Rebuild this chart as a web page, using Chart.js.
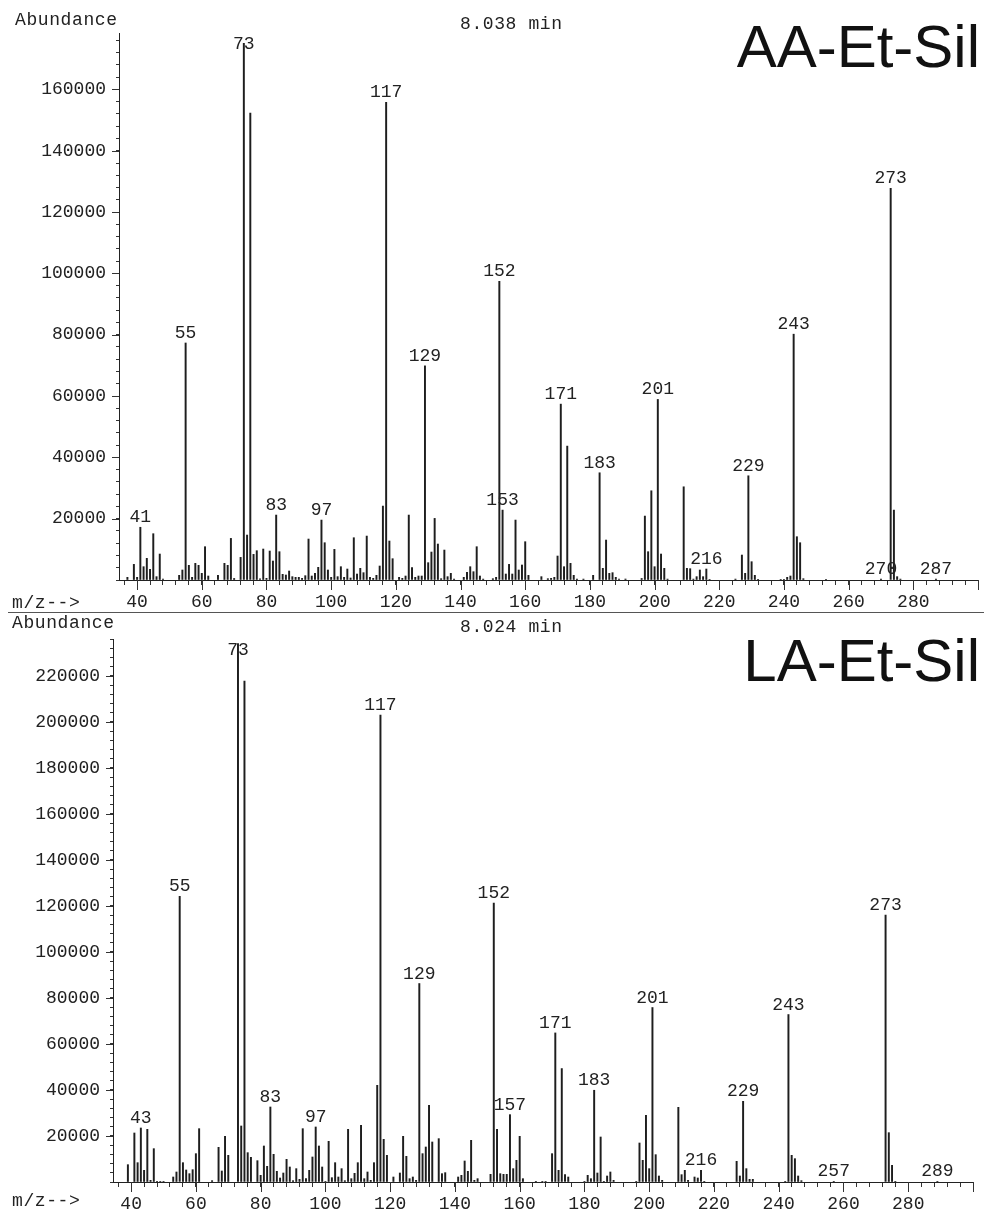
<!DOCTYPE html>
<html>
<head>
<meta charset="utf-8">
<script src="https://cdn.jsdelivr.net/npm/chart.js@4.4.1/dist/chart.umd.min.js"></script>
<style>
  body { margin: 0; background: #fff; width: 984px; height: 1213px; position: relative; overflow: hidden; color: #222; }
  canvas { position: absolute; left: 0; }
  .txt { position: absolute; font-family: "Liberation Mono", monospace; font-size: 18px; line-height: 18px; white-space: nowrap; }
  .wide { letter-spacing: 0.6px; }
  .big { position: absolute; right: 4px; font-family: "Liberation Sans", Arial, sans-serif; font-size: 60px; line-height: 60px; color: #111; white-space: nowrap; }
  .rule { position: absolute; left: 8px; right: 0; top: 612px; height: 1px; background: #555; }
</style>
</head>
<body>
<canvas id="aaChart" width="984" height="612" style="top:0"></canvas>
<canvas id="laChart" width="984" height="601" style="top:612px"></canvas>
<div class="rule"></div>
<div class="txt wide" style="left:15px;top:11px">Abundance</div>
<div class="txt wide" style="left:460px;top:15px">8.038 min</div>
<div class="big" style="top:17px">AA-Et-Sil</div>
<div class="txt wide" style="left:12px;top:594px">m/z--&gt;</div>
<div class="txt wide" style="left:12px;top:614px">Abundance</div>
<div class="txt wide" style="left:460px;top:618px">8.024 min</div>
<div class="big" style="top:631px">LA-Et-Sil</div>
<div class="txt wide" style="left:12px;top:1192px">m/z--&gt;</div>
<script>
// AA-Et-Sil, 8.038 min
var mzAA = [37, 39, 40, 41, 42, 43, 44, 45, 46, 47, 48, 53, 54, 55, 56, 57, 58, 59, 60, 61, 62, 65, 67, 68, 69, 70,
  72, 73, 74, 75, 76, 77, 78, 79, 80, 81, 82, 83, 84, 85, 86, 87, 88, 89, 90, 91, 92, 93, 94, 95, 96, 97, 98, 99,
  100, 101, 102, 103, 104, 105, 106, 107, 108, 109, 110, 111, 112, 113, 114, 115, 116, 117, 118, 119, 121, 122, 123,
  124, 125, 126, 127, 128, 129, 130, 131, 132, 133, 134, 135, 136, 137, 138, 141, 142, 143, 144, 145, 146, 147, 150,
  151, 152, 153, 154, 155, 156, 157, 158, 159, 160, 161, 165, 167, 168, 169, 170, 171, 172, 173, 174, 175, 176, 178,
  181, 183, 184, 185, 186, 187, 188, 189, 191, 196, 197, 198, 199, 200, 201, 202, 203, 204, 209, 210, 211, 212, 213,
  214, 215, 216, 217, 225, 227, 228, 229, 230, 231, 232, 239, 240, 241, 242, 243, 244, 245, 246, 253, 270, 273, 274,
  275, 276, 287];
var abAA = [870, 5100, 870, 17200, 4340, 7060, 3480, 15100, 1090, 8470, 300, 1520, 3260, 77300, 4780, 870, 5430, 4780,
  2170, 10860, 1300, 1520, 5430, 4780, 13570, 500,
  7380, 175000, 14660, 152300, 8360, 9560, 400, 10100, 540, 9450, 6190, 21180, 9230, 1850, 1630, 2930, 1090, 870, 870,
  540, 1410, 13360, 1300, 2170, 4130, 19550, 12160, 3260,
  870, 9990, 1090, 4340, 870, 3580, 650, 13790, 1950, 3800, 2390, 14330, 870, 540, 1520, 4560, 24110, 155800, 12710,
  6950, 870, 540, 1300,
  21180, 4020, 870, 1300, 1300, 69840, 5650, 9120, 20090, 11730, 430, 9770, 1090, 2170, 300, 870, 2500, 4340, 2710,
  10860, 1300, 300, 430,
  870, 97440, 22800, 1950, 5100, 1950, 19550, 3260, 4890, 12490, 1520, 1090, 430, 540, 870, 7820, 57360, 4340, 43670,
  5430, 1520, 300, 300,
  1520, 34970, 3800, 13030, 2170, 2390, 870, 300, 320, 500, 20850, 9230, 29100, 4340, 58890, 8470, 3800, 300, 30400,
  3800, 3690, 300, 1090,
  3260, 1090, 3580, 200, 300, 8140, 2170, 33990, 5970, 1520, 220, 200, 200, 870, 1300, 80170, 14120, 12160, 430, 200,
  300, 127750, 22800,
  1090, 300, 300];
var labelsAA = [41, 55, 73, 83, 97, 117, 129, 152, 153, 171, 183, 201, 216, 229, 243, 270, 273, 287];

// LA-Et-Sil, 8.024 min
var mzLA = [39, 41, 42, 43, 44, 45, 46, 47, 48, 49, 50, 53, 54, 55, 56, 57, 58, 59, 60, 61, 65, 67, 68, 69, 70,
  73, 74, 75, 76, 77, 79, 80, 81, 82, 83, 84, 85, 86, 87, 88, 89, 90, 91, 92, 93, 94, 95, 96, 97, 98, 99,
  100, 101, 102, 103, 104, 105, 106, 107, 108, 109, 110, 111, 112, 113, 114, 115, 116, 117, 118, 119, 121, 123,
  124, 125, 126, 127, 128, 129, 130, 131, 132, 133, 135, 136, 137, 141, 142, 143, 144, 145, 146, 147,
  151, 152, 153, 154, 155, 156, 157, 158, 159, 160, 161, 165, 167, 168, 170, 171, 172, 173, 174, 175,
  180, 181, 182, 183, 184, 185, 186, 187, 188, 189, 196, 197, 198, 199, 200, 201, 202, 203, 204, 209, 210, 211, 212,
  214, 215, 216, 217, 227, 228, 229, 230, 231, 232, 242, 243, 244, 245, 246, 247, 257, 273, 274, 275, 276, 289];
var abLA = [7530, 21300, 8400, 23470, 5070, 22900, 720, 14490, 300, 300, 300, 2170, 4350, 124200, 8400, 5220, 3620,
  5360, 12320, 23180, 580, 15070, 4780, 19850, 11590,
  234000, 24340, 217700, 12750, 10720, 9270, 2900, 15650, 6810, 32600, 12030, 4640, 1740, 3910, 9850, 6520, 580, 5800,
  1160, 23180, 1450, 5070, 10870, 23910, 15650, 6520,
  290, 17680, 1880, 8400, 2170, 5800, 580, 22900, 1450, 3770, 8400, 24630, 1450, 4350, 720, 8400, 42020, 202900, 18550,
  11590, 2170, 3910,
  19850, 11160, 1450, 2170, 720, 86260, 12320, 15210, 33330, 17390, 18840, 3620, 4060, 2170, 2900, 9130, 4640, 18110,
  720, 1450,
  3330, 121180, 22900, 3620, 3330, 3330, 29270, 5800, 9420, 19850, 1450, 300, 290, 300, 12320, 64790, 5070, 49300,
  3190, 2170,
  290, 2900, 1450, 39870, 3910, 19560, 300, 2610, 4350, 720, 290, 16950, 9420, 28980, 5800, 75830, 11880, 2610, 720,
  32460, 3190, 5070, 720,
  2170, 1740, 5070, 290, 8980, 2610, 35070, 5800, 1160, 1160, 290, 72780, 11590, 10140, 2610, 580, 300, 115970, 21440,
  7250, 300, 300];
var labelsLA = [43, 55, 73, 83, 97, 117, 129, 152, 157, 171, 183, 201, 216, 229, 243, 257, 273, 289];

var mzMin = 34.4;
var mzMax = 300;

function peakMarks(mz, ab, labels) {
  return {
    id: 'peakMarks',
    afterDraw: function (chart) {
      var ctx = chart.ctx;
      var xs = chart.scales.x;
      var ys = chart.scales.y;
      var area = chart.chartArea;
      ctx.save();
      // longer ticks on the labelled steps
      ctx.strokeStyle = '#333';
      ctx.lineWidth = 1;
      ctx.beginPath();
      xs.ticks.forEach(function (t) {
        if (t.value % 20 === 0) {
          var px = Math.round(xs.getPixelForValue(t.value)) + 0.5;
          ctx.moveTo(px, area.bottom);
          ctx.lineTo(px, area.bottom + 10);
        }
      });
      ys.ticks.forEach(function (t) {
        if (t.value > 0 && t.value % 20000 === 0) {
          var py = Math.round(ys.getPixelForValue(t.value)) + 0.5;
          ctx.moveTo(area.left, py);
          ctx.lineTo(area.left - 7, py);
        }
      });
      ctx.stroke();
      // peak labels
      ctx.font = '18px "Liberation Mono", monospace';
      ctx.fillStyle = '#222';
      ctx.textAlign = 'center';
      ctx.textBaseline = 'alphabetic';
      labels.forEach(function (m) {
        var i = mz.indexOf(m);
        var v = i >= 0 ? ab[i] : 0;
        var px = xs.getPixelForValue(m);
        var py = Math.max(ys.getPixelForValue(v) - 5, area.top + 16);
        ctx.fillText(String(m), px, py);
      });
      ctx.restore();
    }
  };
}

function drawSpectrum(id, mz, ab, labels, yMax, axisWidth, padTop, padRight, xHeight) {
  var points = mz.map(function (m, i) { return {x: m, y: ab[i]}; });
  var tickFont = {family: 'Liberation Mono', size: 18};
  new Chart(document.getElementById(id).getContext('2d'), {
    type: 'bar',
    data: {
      datasets: [{
        data: points,
        backgroundColor: '#1e1e1e',
        borderWidth: 0,
        barThickness: 1.3
      }]
    },
    options: {
      responsive: false,
      animation: false,
      devicePixelRatio: 1,
      layout: {padding: {top: padTop, right: padRight, left: 0, bottom: 0}},
      plugins: {legend: {display: false}, tooltip: {enabled: false}},
      scales: {
        x: {
          type: 'linear',
          min: mzMin,
          max: mzMax,
          offset: false,
          grid: {drawOnChartArea: false, drawTicks: true, tickLength: 5, color: '#333', offset: false},
          border: {display: true, color: '#222', width: 1},
          ticks: {
            autoSkip: false,
            maxRotation: 0,
            padding: 6,
            color: '#222',
            font: tickFont,
            callback: function (v) { return (v % 20 === 0 && v < 300) ? String(v) : ''; }
          },
          afterBuildTicks: function (s) {
            var t = [];
            for (var v = 36; v <= mzMax; v += 4) t.push({value: v});
            s.ticks = t;
          },
          afterFit: function (s) { s.height = xHeight; }
        },
        y: {
          min: 0,
          max: yMax,
          grid: {drawOnChartArea: false, drawTicks: true, tickLength: 3, color: '#333'},
          border: {display: true, color: '#222', width: 1},
          ticks: {
            autoSkip: false,
            padding: 10,
            color: '#222',
            font: tickFont,
            callback: function (v) { return (v > 0 && v % 20000 === 0) ? String(v) : ''; }
          },
          afterBuildTicks: function (s) {
            var t = [];
            for (var v = 0; v <= yMax; v += 4000) t.push({value: v});
            s.ticks = t;
          },
          afterFit: function (s) { s.width = axisWidth; }
        }
      }
    },
    plugins: [peakMarks(mz, ab, labels)]
  });
}

drawSpectrum('aaChart', mzAA, abAA, labelsAA, 178400, 119, 33, 6, 32);
drawSpectrum('laChart', mzLA, abLA, labelsLA, 236000, 113, 27, 11, 31);
</script>
</body>
</html>
